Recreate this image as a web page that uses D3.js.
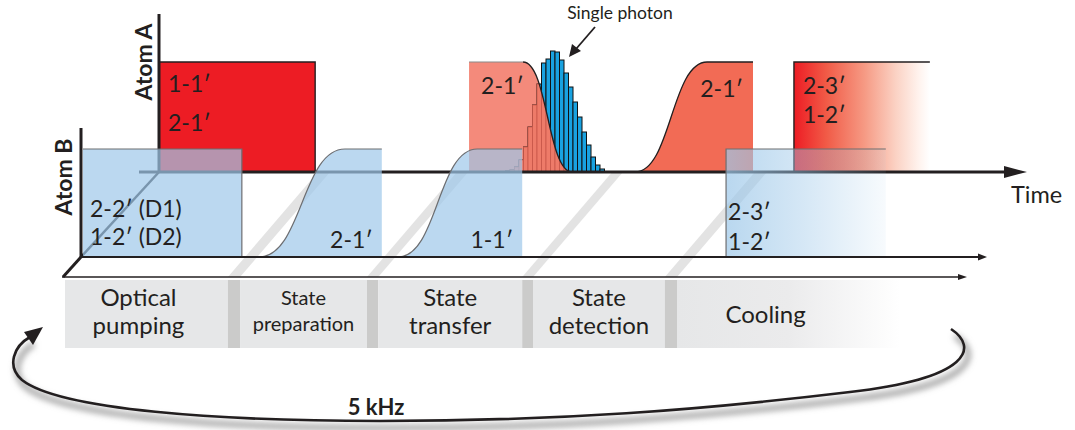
<!DOCTYPE html>
<html><head><meta charset="utf-8">
<script src="https://cdn.jsdelivr.net/npm/d3@7"></script>
<style>
html,body{margin:0;padding:0;background:#fff;}
svg{display:block;font-family:Lato,"Open Sans",sans-serif;}
</style></head><body>
<svg id="chart" width="1075" height="430"></svg>
<script>
// ================= DATA =================
// one experimental cycle = 200 µs (5 kHz repetition)
const cycleLabel = "5 kHz";
const cycleLength = 200; // µs

// sequence phases (µs)
const phaseNames  = [["Optical","pumping"],["State","preparation"],["State","transfer"],["State","detection"],["Cooling"]];
const phaseStarts = [0, 38.9, 69.6, 104.0, 136.0];
const phaseEnds   = [36.2, 67.1, 101.6, 133.3, 185.6];

// Atom A laser pulses (µs, relative amplitude)
const pulseStartA = [0, 68.9, 105.8, 141.1];
const pulseEndA   = [34.7, 91.8, 132.0, 171.3];
const pulseRiseA  = [0, 0, 16.0, 0];
const pulseFallA  = [0, 10.9, 0, 0];
const pulseLabelsA = [["1-1′","2-1′"],["2-1′"],["2-1′"],["2-3′","1-2′"]];

// Atom B laser pulses
const pulseStartB = [0, 39.1, 70.0, 142.9];
const pulseEndB   = [35.3, 66.4, 97.6, 178.4];
const pulseRiseB  = [0, 19.1, 17.6, 0];
const pulseFallB  = [0, 0, 0, 0];
const pulseLabelsB = [["2-2′ (D1)","1-2′ (D2)"],["2-1′"],["1-1′"],["2-3′","1-2′"]];

// single-photon arrival histogram (1 µs bins, counts)
const photonBins   = [77,78,79,80,81,82,83,84,85,86,87,88,89,90,91,92,93,94,95,96,97,98];
const photonCounts = [10,20,50,120,250,450,670,880,1090,1130,1210,1200,1120,990,850,700,550,400,270,150,70,30];

const axisLabels = {A:"Atom A", B:"Atom B", time:"Time", photon:"Single photon"};

// ================= DRAWING =================
const INK = "#231f20";
const svg = d3.select("#chart");
const defs = svg.append("defs");

const xT = d3.scaleLinear().domain([0, cycleLength]).range([0, 900]);
const yA = d3.scaleLinear().domain([0, 1]).range([0, -110]);
const yB = d3.scaleLinear().domain([0, 1]).range([0, -108]);
const yPh = d3.scaleLinear().domain([0, 1210]).range([0, -121]);

const OF = [65, 277], OB = [83, 257], OA = [159, 172];
const SKEW = 90;

function pulsePath(t0, t1, r, f, h) {
  const p = d3.path();
  p.moveTo(xT(t0), 0);
  if (r > 0) p.bezierCurveTo(xT(t0 + r/2), 0, xT(t0 + r/2), h, xT(t0 + r), h); else p.lineTo(xT(t0), h);
  p.lineTo(xT(t1 - f), h);
  if (f > 0) p.bezierCurveTo(xT(t1 - f/2), h, xT(t1 - f/2), 0, xT(t1), 0); else p.lineTo(xT(t1), 0);
  p.closePath();
  return p.toString();
}
function edgePath(t0, t1, r, f, h, left, right) {
  const p = d3.path();
  if (r > 0) { p.moveTo(xT(t0), 0); p.bezierCurveTo(xT(t0 + r/2), 0, xT(t0 + r/2), h, xT(t0 + r), h); }
  else if (left) { p.moveTo(xT(t0), 0); p.lineTo(xT(t0), h); }
  else p.moveTo(xT(t0), h);
  p.lineTo(xT(t1 - f), h);
  if (f > 0) p.bezierCurveTo(xT(t1 - f/2), h, xT(t1 - f/2), 0, xT(t1), 0);
  else if (right) p.lineTo(xT(t1), 0);
  return p.toString();
}

// gradients
const gA = defs.append("linearGradient").attr("id", "gradA");
[[0,"#ed1c24"],[0.24,"#f15b47"],[0.52,"#f69a84"],[0.75,"#fbd2c4"],[0.92,"#fff3ee"],[1,"#ffffff"]]
  .forEach(s => gA.append("stop").attr("offset", s[0]).attr("stop-color", s[1]));
const gB = defs.append("linearGradient").attr("id", "gradB");
[[0,0.72],[0.5,0.42],[1,0.08]]
  .forEach(s => gB.append("stop").attr("offset", s[0]).attr("stop-color", "rgb(158,200,233)").attr("stop-opacity", s[1]));
const gC = defs.append("linearGradient").attr("id", "gradCool").attr("gradientUnits", "userSpaceOnUse")
  .attr("x1", OF[0] + xT(phaseStarts[4])).attr("x2", OF[0] + xT(phaseEnds[4])).attr("y1", 0).attr("y2", 0);
[[0,"#e6e7e8"],[0.5,"#ebebec"],[1,"#ffffff"]].forEach(s => gC.append("stop").attr("offset", s[0]).attr("stop-color", s[1]));

// ---- diagonal bands (phase dividers in perspective) ----
const bands = svg.append("g");
for (let i = 0; i < phaseStarts.length - 1; i++) {
  const s = OF[0] + xT(phaseEnds[i]), e = OF[0] + xT(phaseStarts[i + 1]);
  bands.append("polygon")
    .attr("points", [[s, OF[1]], [e, OF[1]], [e + SKEW, OA[1]], [s + SKEW, OA[1]]].join(" "))
    .attr("fill", "#e3e3e3");
}

// ---- phase bar ----
const bar = svg.append("g");
phaseNames.forEach((n, i) => {
  bar.append("rect").attr("x", OF[0] + xT(phaseStarts[i])).attr("y", 280)
    .attr("width", xT(phaseEnds[i]) - xT(phaseStarts[i])).attr("height", 68)
    .attr("fill", i === phaseNames.length - 1 ? "url(#gradCool)" : "#e6e7e8");
  if (i < phaseNames.length - 1)
    bar.append("rect").attr("x", OF[0] + xT(phaseEnds[i])).attr("y", 280)
      .attr("width", xT(phaseStarts[i + 1]) - xT(phaseEnds[i])).attr("height", 68).attr("fill", "#cbcbca");
});
const phaseShift = [-8, 0, 0, 0, -23];
phaseNames.forEach((n, i) => {
  const cx = OF[0] + xT((phaseStarts[i] + phaseEnds[i]) / 2) + phaseShift[i];
  const small = i === 1;
  const ys = n.length === 1 ? [323] : (small ? [305, 331] : [306, 334]);
  n.forEach((line, j) => bar.append("text").attr("x", cx).attr("y", ys[j]).attr("text-anchor", "middle")
    .attr("font-size", small ? 20 : 24).attr("fill", INK).text(line));
});

// ---- Atom A layer ----
const LA = svg.append("g").attr("transform", `translate(${OA[0]},${OA[1]})`);
const fillA = ["#ed1c24", "#f48a7b", "#f26b55", "url(#gradA)"];
const pathsA = pulseStartA.map((t, i) => pulsePath(t, pulseEndA[i], pulseRiseA[i], pulseFallA[i], yA(1)));
[0, 1].forEach(i => LA.append("path").attr("d", pathsA[i]).attr("fill", fillA[i]));
// photon histogram
const bw = xT(1) - xT(0);
LA.append("g").selectAll("rect").data(photonBins).join("rect")
  .attr("x", d => xT(d)).attr("width", bw)
  .attr("y", (d, i) => yPh(photonCounts[i])).attr("height", (d, i) => -yPh(photonCounts[i]))
  .attr("fill", "#19a2e0").attr("stroke", "#111").attr("stroke-width", 1);
defs.append("clipPath").attr("id", "clipPulse").append("path").attr("d", pathsA[1]);
LA.append("g").attr("clip-path", "url(#clipPulse)").selectAll("rect").data(photonBins).join("rect")
  .attr("x", d => xT(d)).attr("width", bw)
  .attr("y", (d, i) => yPh(photonCounts[i])).attr("height", (d, i) => -yPh(photonCounts[i]))
  .attr("fill", "#ee7b69").attr("stroke", "#c9574a").attr("stroke-width", 0.8);
[2, 3].forEach(i => LA.append("path").attr("d", pathsA[i]).attr("fill", fillA[i]));
// edges
LA.append("path").attr("d", edgePath(0, pulseEndA[0], 0, 0, yA(1), false, true)).attr("fill", "none").attr("stroke", INK).attr("stroke-width", 1.4);
LA.append("line").attr("x1", xT(pulseStartA[1])).attr("x2", xT(pulseEndA[1] - pulseFallA[1])).attr("y1", yA(1)).attr("y2", yA(1)).attr("stroke", "#8a8a8a").attr("stroke-width", 1.2);
{
  const t1 = pulseEndA[1], f = pulseFallA[1], h = yA(1);
  const p = d3.path(); p.moveTo(xT(t1 - f), h); p.bezierCurveTo(xT(t1 - f/2), h, xT(t1 - f/2), 0, xT(t1), 0);
  LA.append("path").attr("d", p.toString()).attr("fill", "none").attr("stroke", INK).attr("stroke-width", 1.3);
}
LA.append("path").attr("d", edgePath(pulseStartA[2], pulseEndA[2], pulseRiseA[2], 0, yA(1), false, false)).attr("fill", "none").attr("stroke", INK).attr("stroke-width", 1.3);
LA.append("path").attr("d", edgePath(pulseStartA[3], pulseEndA[3], 0, 0, yA(1), true, false)).attr("fill", "none").attr("stroke", INK).attr("stroke-width", 1.4);

// A axes
svg.append("line").attr("x1", OA[0]).attr("x2", OA[0]).attr("y1", 14).attr("y2", OA[1]).attr("stroke", INK).attr("stroke-width", 3);
svg.append("line").attr("x1", OA[0] - 20).attr("x2", 1006).attr("y1", OA[1]).attr("y2", OA[1]).attr("stroke", INK).attr("stroke-width", 3);
svg.append("polygon").attr("points", [[1004, OA[1] - 6], [1027, OA[1]], [1004, OA[1] + 6]].join(" ")).attr("fill", INK);
svg.append("line").attr("x1", OA[0]).attr("y1", OA[1]).attr("x2", OB[0] - 2).attr("y2", OB[1]).attr("stroke", INK).attr("stroke-width", 2.5);

// ---- Atom B layer ----
const LB = svg.append("g").attr("transform", `translate(${OB[0]},${OB[1]})`);
pulseStartB.forEach((t, i) => {
  LB.append("path").attr("d", pulsePath(t, pulseEndB[i], pulseRiseB[i], pulseFallB[i], yB(1)))
    .attr("fill", i === 3 ? "url(#gradB)" : "rgb(158,200,233)").attr("fill-opacity", i === 3 ? 1 : 0.7);
  LB.append("path").attr("d", edgePath(t, pulseEndB[i], pulseRiseB[i], pulseFallB[i], yB(1), i === 3, i === 0))
    .attr("fill", "none").attr("stroke", "#6d6e71").attr("stroke-width", 1.2);
});

// B axes & front axis
svg.append("line").attr("x1", OB[0] - 2).attr("x2", OB[0] - 2).attr("y1", 128).attr("y2", OB[1]).attr("stroke", INK).attr("stroke-width", 3);
svg.append("line").attr("x1", OB[0] - 3).attr("x2", 980).attr("y1", OB[1]).attr("y2", OB[1]).attr("stroke", INK).attr("stroke-width", 2);
svg.append("polygon").attr("points", [[978, OB[1] - 3.5], [987, OB[1]], [978, OB[1] + 3.5]].join(" ")).attr("fill", INK);
svg.append("line").attr("x1", OB[0] - 2).attr("y1", OB[1]).attr("x2", OF[0] - 2).attr("y2", OF[1]).attr("stroke", INK).attr("stroke-width", 3);
svg.append("line").attr("x1", OF[0] - 3).attr("x2", 960).attr("y1", OF[1]).attr("y2", OF[1]).attr("stroke", INK).attr("stroke-width", 1.5);
svg.append("polygon").attr("points", [[958, OF[1] - 3], [967, OF[1]], [958, OF[1] + 3]].join(" ")).attr("fill", INK);

// ---- pulse labels ----
const FS = 23;
const labStyleA = [{dx: 9, anchor: "start", ys: [-80, -41], ref: "start"},
                   {dx: 12, anchor: "start", ys: [-78], ref: "start"},
                   {dx: -10, anchor: "end", ys: [-75], ref: "end"},
                   {dx: 9, anchor: "start", ys: [-78, -49], ref: "start"}];
pulseLabelsA.forEach((ls, i) => {
  const st = labStyleA[i];
  const x = (st.ref === "start" ? xT(pulseStartA[i]) : xT(pulseEndA[i])) + st.dx;
  ls.forEach((l, j) => LA.append("text").attr("x", x).attr("y", st.ys[j]).attr("text-anchor", st.anchor)
    .attr("font-size", FS).attr("fill", INK).text(l));
});
const labStyleB = [{dx: 7, anchor: "start", ys: [-40, -12], ref: "start"},
                   {dx: -9, anchor: "end", ys: [-9], ref: "end"},
                   {dx: -9, anchor: "end", ys: [-9], ref: "end"},
                   {dx: 2, anchor: "start", ys: [-37, -7], ref: "start"}];
pulseLabelsB.forEach((ls, i) => {
  const st = labStyleB[i];
  const x = (st.ref === "start" ? xT(pulseStartB[i]) : xT(pulseEndB[i])) + st.dx;
  ls.forEach((l, j) => LB.append("text").attr("x", x).attr("y", st.ys[j]).attr("text-anchor", st.anchor)
    .attr("font-size", FS).attr("fill", INK).text(l));
});

// axis labels
svg.append("text").attr("transform", "translate(152,62) rotate(-90)").attr("text-anchor", "middle")
  .attr("font-size", 23).attr("font-weight", "bold").attr("fill", INK).text(axisLabels.A);
svg.append("text").attr("transform", "translate(72,177) rotate(-90)").attr("text-anchor", "middle")
  .attr("font-size", 23).attr("font-weight", "bold").attr("fill", INK).text(axisLabels.B);
svg.append("text").attr("x", 1011).attr("y", 203).attr("font-size", 23.5).attr("fill", INK).text(axisLabels.time);

// single photon annotation
svg.append("text").attr("x", 620).attr("y", 19).attr("text-anchor", "middle").attr("font-size", 17.5).attr("fill", INK).text(axisLabels.photon);
svg.append("line").attr("x1", 595).attr("y1", 27).attr("x2", 576).attr("y2", 49).attr("stroke", INK).attr("stroke-width", 1.8);
svg.append("polygon").attr("points", "569,57 572,44 581,51").attr("fill", INK);

// ---- cycle loop arrow ----
const loopD = "M951,329 C978,347 972,378 850,392 C700,410 560,421 380,421 C220,421 60,410 22,380 C6,366 14,346 30,337";
const sh = defs.append("filter").attr("id", "blur").attr("x", "-5%").attr("y", "-30%").attr("width", "110%").attr("height", "160%");
sh.append("feGaussianBlur").attr("stdDeviation", 3);
svg.append("path").attr("d", loopD).attr("transform", "translate(4,7)").attr("fill", "none")
  .attr("stroke", "#9a9a9a").attr("stroke-width", 5).attr("filter", "url(#blur)");
svg.append("path").attr("d", loopD).attr("fill", "none").attr("stroke", INK).attr("stroke-width", 2.6);
svg.append("polygon").attr("points", "43,327 24,332 33,345").attr("fill", INK);
svg.append("text").attr("x", 376).attr("y", 415).attr("text-anchor", "middle").attr("font-size", 22)
  .attr("font-weight", "bold").attr("fill", INK).text(cycleLabel);
</script>
</body></html>
